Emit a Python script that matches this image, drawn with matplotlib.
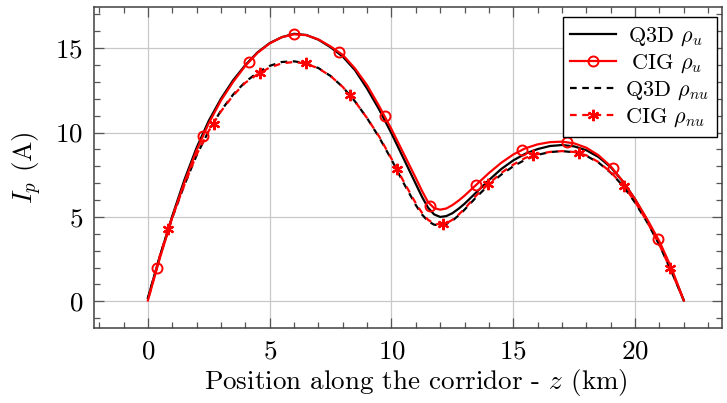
import matplotlib
matplotlib.use("Agg")
import matplotlib.pyplot as plt
from matplotlib.lines import Line2D
from matplotlib.ticker import MultipleLocator

plt.rcParams['font.family'] = 'serif'
plt.rcParams['font.serif'] = ['cmr10', 'DejaVu Serif']
plt.rcParams['mathtext.fontset'] = 'cm'
plt.rcParams['axes.formatter.use_mathtext'] = True

# ---------------- data ----------------
z = [0, 0.5, 1, 1.5, 2, 2.5, 3, 3.5, 4, 4.5, 5, 5.5, 6, 6.5, 7, 7.5, 8, 8.5, 9, 9.5,
     10, 10.5, 11, 11.25, 11.5, 11.75, 12, 12.25, 12.5, 12.75, 13, 13.5, 14, 14.5, 15,
     15.5, 16, 16.5, 17, 17.5, 18, 18.5, 19, 19.5, 20, 20.5, 21, 21.5, 22]

q3d_u = [0.2, 2.7, 5.05, 7.2, 9.1, 10.7, 12.0, 13.1, 14.0, 14.75, 15.3, 15.65, 15.85,
         15.78, 15.5, 15.05, 14.5, 13.7, 12.6, 11.35, 9.95, 8.45, 6.95, 6.2, 5.55, 5.15,
         5.0, 5.05, 5.22, 5.48, 5.78, 6.48, 7.18, 7.83, 8.35, 8.75, 9.02, 9.2, 9.26,
         9.18, 8.95, 8.55, 7.95, 7.1, 6.05, 4.8, 3.45, 1.85, 0.05]

cig_u = [0.05, 2.6, 4.95, 7.05, 8.95, 10.55, 11.9, 13.0, 13.95, 14.72, 15.28, 15.65,
         15.82, 15.77, 15.52, 15.1, 14.6, 13.8, 12.8, 11.55, 10.2, 8.75, 7.3, 6.55,
         5.88, 5.52, 5.43, 5.5, 5.7, 5.96, 6.26, 6.93, 7.6, 8.2, 8.7, 9.07, 9.3, 9.43,
         9.46, 9.36, 9.1, 8.65, 8.0, 7.1, 6.05, 4.85, 3.55, 1.95, 0.05]

q3d_nu = [0.15, 2.7, 4.95, 6.9, 8.65, 10.1, 11.3, 12.25, 13.0, 13.55, 13.95, 14.18,
          14.22, 14.1, 13.82, 13.35, 12.7, 11.85, 10.85, 9.7, 8.4, 7.0, 5.7, 5.15,
          4.75, 4.54, 4.5, 4.58, 4.78, 5.08, 5.43, 6.2, 6.9, 7.5, 8.0, 8.4, 8.68, 8.84,
          8.9, 8.83, 8.62, 8.22, 7.62, 6.85, 5.85, 4.68, 3.33, 1.75, 0.05]

cig_nu = [0.05, 2.75, 5.0, 6.9, 8.7, 10.1, 11.25, 12.2, 12.95, 13.45, 13.85, 14.1,
          14.18, 14.08, 13.8, 13.35, 12.7, 11.85, 10.85, 9.75, 8.45, 7.1, 5.8, 5.25,
          4.83, 4.6, 4.55, 4.62, 4.83, 5.13, 5.48, 6.3, 6.97, 7.6, 8.1, 8.5, 8.72, 8.85,
          8.9, 8.85, 8.65, 8.25, 7.65, 6.9, 5.9, 4.7, 3.35, 1.75, 0.05]

cig_u_mz = [0.37, 2.26, 4.14, 6.0, 7.85, 9.74, 11.58, 13.47, 15.35, 17.19, 19.08, 20.95]
cig_u_mv = [2.0, 9.82, 14.2, 15.82, 14.76, 10.98, 5.65, 6.88, 8.97, 9.42, 7.88, 3.67]

cig_nu_mz = [0.82, 2.72, 4.61, 6.48, 8.3, 10.22, 12.1, 13.95, 15.82, 17.71, 19.56, 21.43]
cig_nu_mv = [4.27, 10.49, 13.55, 14.09, 12.23, 7.84, 4.58, 6.93, 8.67, 8.81, 6.83, 1.95]

labels = [r'Q3D $\rho_u$', r'CIG $\rho_u$', r'Q3D $\rho_{nu}$', r'CIG $\rho_{nu}$']
xticks = [0, 5, 10, 15, 20]
yticks = [0, 5, 10, 15]

# ---------------- figure ----------------
fig = plt.figure(figsize=(7.27, 4.03), dpi=100)
ax = fig.add_axes([0.1297, 0.1853, 0.9935 - 0.1297, 0.9819 - 0.1853])

lw = 1.6
dash = (3.0, 2.5)
star = (6, 2, 0)
msz = 7.2
fs = 19.5

ax.plot(z, q3d_u, color='black', lw=lw, zorder=3)
ax.plot(z, cig_u, color='red', lw=lw, zorder=4)
ax.plot(cig_u_mz, cig_u_mv, ls='none', marker='o', ms=msz, mfc='none', mec='red',
        mew=1.4, zorder=5)
ax.plot(z, q3d_nu, color='black', lw=lw, ls=(0, dash), zorder=3)
ax.plot(z, cig_nu, color='red', lw=lw, ls=(3.0, dash), zorder=4)
ax.plot(cig_nu_mz, cig_nu_mv, ls='none', marker=star, ms=msz + 1, mec='red',
        mew=1.6, zorder=5)

ax.set_xlim(-2.2, 23.58)
ax.set_ylim(-1.6, 17.42)
ax.set_xticks(xticks)
ax.set_yticks(yticks)
ax.xaxis.set_minor_locator(MultipleLocator(1))
ax.yaxis.set_minor_locator(MultipleLocator(1))
ax.grid(True, which='major', color='#c8c8c8', lw=0.9, zorder=0)
ax.set_axisbelow(True)

ax.tick_params(which='both', direction='in', top=True, right=True,
               color='#555555', width=0.9, labelsize=fs, pad=8)
ax.tick_params(which='major', length=7)
ax.tick_params(which='minor', length=4.5)
for s in ax.spines.values():
    s.set_color('#404040')
    s.set_linewidth(1.1)

ax.set_xlabel(r'Position along the corridor - $z$ (km)', fontsize=fs, labelpad=3)
ax.xaxis.label.set_x(0.5115)
ax.set_ylabel(r'$I_p$ (A)', fontsize=fs, labelpad=8)

handles = [
    Line2D([], [], color='black', lw=lw),
    Line2D([], [], color='red', lw=lw, marker='o', ms=msz, mfc='none', mec='red', mew=1.4),
    Line2D([], [], color='black', lw=lw, ls=(0, dash)),
    Line2D([], [], color='red', lw=lw, ls=(0, dash), marker=star, ms=msz + 1, mec='red', mew=1.6),
]
# legend labels are centred in their column, as in the original
pads = [r'$\,$', r'$\,\,$', '', '']
leg_labels = [p + l for p, l in zip(pads, labels)]
leg = ax.legend(handles, leg_labels, loc='upper right', bbox_to_anchor=(0.9911, 0.9688),
                borderaxespad=0, fontsize=16, fancybox=False, framealpha=1,
                edgecolor='black', handlelength=2.05, handletextpad=0.4,
                labelspacing=0.2, borderpad=0.35)
leg.get_frame().set_linewidth(1.0)

fig.savefig('out.png', dpi=100)
